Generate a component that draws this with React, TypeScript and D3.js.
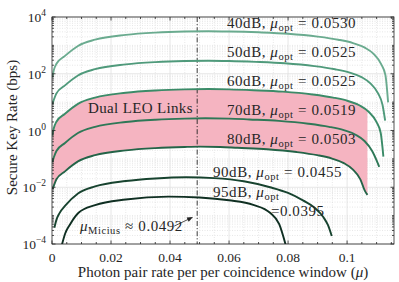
import React, { useRef, useEffect } from 'react';
import * as d3 from 'd3';

// link losses and the optimal mean photon pair number
const losses = ['40dB', '50dB', '60dB', '70dB', '80dB', '90dB', '95dB'];
const muOpts = ['0.0530', '0.0525', '0.0525', '0.0519', '0.0503', '0.0455', '0.0395'];

// mu (x) and log10 of the secure key rate (y)
const mu40 = [0.0001, 0.0006, 0.0015, 0.0044, 0.0088, 0.0146, 0.025, 0.035, 0.045, 0.053, 0.06, 0.07, 0.08, 0.09, 0.097, 0.102, 0.106, 0.109, 0.1115, 0.113, 0.1139];
const rate40 = [1.87, 2.12, 2.35, 2.63, 2.98, 3.20, 3.37, 3.45, 3.49, 3.50, 3.49, 3.46, 3.41, 3.31, 3.20, 3.08, 2.92, 2.70, 2.35, 1.95, 0.99];

const mu50 = [0.0001, 0.0006, 0.0015, 0.0044, 0.0088, 0.0146, 0.025, 0.035, 0.045, 0.053, 0.06, 0.0689, 0.0789, 0.0889, 0.0959, 0.1009, 0.1049, 0.1079, 0.1105, 0.112, 0.1129];
const rate50 = [0.93, 1.08, 1.31, 1.59, 1.94, 2.16, 2.33, 2.41, 2.45, 2.46, 2.45, 2.42, 2.37, 2.27, 2.16, 2.04, 1.88, 1.66, 1.31, 0.91, 0.35];

const mu60 = [0.0001, 0.0006, 0.0015, 0.0044, 0.0088, 0.0146, 0.025, 0.035, 0.045, 0.053, 0.06, 0.0683, 0.0783, 0.0883, 0.0953, 0.1003, 0.1043, 0.1073, 0.1099, 0.1114, 0.1123];
const rate60 = [-0.18, 0.08, 0.31, 0.59, 0.94, 1.16, 1.33, 1.41, 1.45, 1.46, 1.45, 1.42, 1.37, 1.27, 1.16, 1.04, 0.88, 0.66, 0.31, -0.09, -0.92];

const mu70 = [0.0001, 0.0006, 0.0015, 0.0044, 0.0088, 0.0146, 0.025, 0.035, 0.045, 0.052, 0.06, 0.0669, 0.0769, 0.0869, 0.0939, 0.0989, 0.1029, 0.1059, 0.1085, 0.11, 0.1109];
const rate70 = [-1.12, -0.95, -0.72, -0.44, -0.09, 0.13, 0.30, 0.38, 0.42, 0.43, 0.42, 0.39, 0.34, 0.24, 0.13, 0.01, -0.15, -0.37, -0.72, -1.05, -1.28];

const mu80 = [0.0002, 0.0006, 0.0015, 0.0044, 0.0088, 0.0146, 0.025, 0.035, 0.045, 0.05, 0.057, 0.0629, 0.0729, 0.0829, 0.0899, 0.0949, 0.0989, 0.1019, 0.1045, 0.106, 0.1069];
const rate80 = [-2.06, -1.95, -1.72, -1.44, -1.09, -0.87, -0.70, -0.62, -0.58, -0.57, -0.58, -0.61, -0.66, -0.76, -0.87, -0.99, -1.15, -1.37, -1.72, -2.12, -2.27];

const mu90 = [0.0008, 0.0015, 0.0025, 0.0044, 0.0088, 0.0146, 0.025, 0.035, 0.0455, 0.055, 0.065, 0.0739, 0.08, 0.0852, 0.089, 0.092, 0.0935, 0.0948];
const rate90 = [-3.43, -3.15, -2.92, -2.66, -2.22, -1.97, -1.78, -1.69, -1.65, -1.68, -1.79, -2.00, -2.20, -2.47, -2.72, -3.06, -3.33, -3.72];

const mu95 = [0.0033, 0.0045, 0.006, 0.009, 0.0146, 0.025, 0.0395, 0.05, 0.06, 0.0682, 0.0739, 0.077, 0.0795];
const rate95 = [-4.05, -3.62, -3.33, -2.90, -2.63, -2.43, -2.33, -2.36, -2.46, -2.62, -2.90, -3.30, -4.15];

const xTicks = [0, 0.02, 0.04, 0.06, 0.08, 0.1];
const xTickLabels = ['0', '0.02', '0.04', '0.06', '0.08', '0.1'];
const yTickExps = [-4, -2, 0, 2, 4];
const yTickLabels = ['\u22124', '\u22122', '0', '2', '4'];

const muMicius = 0.0492;
const miciusText = '0.0492';

const curveColors = ['#6aab8f', '#4f9a7b', '#3b8b68', '#2e7857', '#246448', '#17432f', '#0f2f22'];
const bandColor = '#f5b4c1';

const W = 399;
const H = 282;
const L = 52, R = 394, T = 17, B = 244;
const FONT = "'Liberation Serif', 'Times New Roman', serif";

const App: React.FC = () => {
    const svgRef = useRef<SVGSVGElement | null>(null);

    useEffect(() => {
        const svg = d3.select(svgRef.current);
        svg.selectAll('*').remove();

        const x = d3.scaleLinear().domain([0, 0.1159]).range([L, R]);
        const y = d3.scaleLog().domain([1e-4, 1e4]).range([B, T]);
        const yl = (v: number) => y(Math.pow(10, v));

        const series = [mu40, mu50, mu60, mu70, mu80, mu90, mu95].map((m, i) =>
            m.map((v, j) => [v, [rate40, rate50, rate60, rate70, rate80, rate90, rate95][i][j]] as [number, number]));

        const defs = svg.append('defs');
        defs.append('clipPath').attr('id', 'plotClip')
            .append('rect').attr('x', L).attr('y', T).attr('width', R - L).attr('height', B - T);

        // grid
        const grid = svg.append('g');
        const minorX = d3.range(1, 24).filter(k => k % 4 !== 0).map(k => k * 0.005);
        const minorY: number[] = [];
        for (let e = -4; e < 4; e++) {
            for (let m = 2; m <= 9; m++) minorY.push(m * Math.pow(10, e));
            if (e % 2 !== 0) minorY.push(Math.pow(10, e));
        }
        grid.selectAll('line.mx').data(minorX).enter().append('line')
            .attr('x1', d => x(d)).attr('x2', d => x(d)).attr('y1', T).attr('y2', B)
            .attr('stroke', '#d6d6d6').attr('stroke-width', 0.6).attr('stroke-dasharray', '1,1.5');
        grid.selectAll('line.my').data(minorY).enter().append('line')
            .attr('x1', L).attr('x2', R).attr('y1', d => y(d)).attr('y2', d => y(d))
            .attr('stroke', '#d6d6d6').attr('stroke-width', 0.6).attr('stroke-dasharray', '1,1.5');
        grid.selectAll('line.gx').data(xTicks.slice(1)).enter().append('line')
            .attr('x1', d => x(d)).attr('x2', d => x(d)).attr('y1', T).attr('y2', B)
            .attr('stroke', '#e0e0e0').attr('stroke-width', 0.8);
        grid.selectAll('line.gy').data(yTickExps).enter().append('line')
            .attr('x1', L).attr('x2', R).attr('y1', d => yl(d)).attr('y2', d => yl(d))
            .attr('stroke', '#e0e0e0').attr('stroke-width', 0.8);

        const plot = svg.append('g').attr('clip-path', 'url(#plotClip)');

        // pink band: between the 60dB and 80dB curves
        const c60 = series[2];
        const c80 = series[4];
        defs.append('clipPath').attr('id', 'above80')
            .append('path')
            .attr('d', d3.area<[number, number]>()
                .x(d => x(d[0])).y0(T - 10).y1(d => yl(d[1]))
                .curve(d3.curveMonotoneX)(c80) as string);
        plot.append('g').attr('clip-path', 'url(#above80)')
            .append('path')
            .attr('d', d3.area<[number, number]>()
                .x(d => x(d[0])).y0(B + 10).y1(d => yl(d[1]))
                .curve(d3.curveMonotoneX)(c60) as string)
            .attr('fill', bandColor);

        // Micius dash-dot line
        plot.append('line')
            .attr('x1', x(muMicius)).attr('x2', x(muMicius)).attr('y1', T).attr('y2', B)
            .attr('stroke', '#222').attr('stroke-width', 0.9).attr('stroke-dasharray', '5,2,1.2,2');

        const line = d3.line<[number, number]>()
            .x(d => x(d[0])).y(d => yl(d[1]))
            .curve(d3.curveMonotoneX);

        plot.selectAll('path.curve').data(series).enter().append('path')
            .attr('class', 'curve')
            .attr('d', d => line(d) as string)
            .attr('fill', 'none')
            .attr('stroke', (d, i) => curveColors[i])
            .attr('stroke-width', 1.9);

        // axes box and ticks
        const axes = svg.append('g').attr('stroke', '#262626').attr('stroke-width', 0.8);
        axes.append('rect').attr('x', L).attr('y', T).attr('width', R - L).attr('height', B - T).attr('fill', 'none');
        minorX.forEach(v => {
            axes.append('line').attr('x1', x(v)).attr('x2', x(v)).attr('y1', B).attr('y2', B - 2);
            axes.append('line').attr('x1', x(v)).attr('x2', x(v)).attr('y1', T).attr('y2', T + 2);
        });
        xTicks.forEach(v => {
            axes.append('line').attr('x1', x(v)).attr('x2', x(v)).attr('y1', B).attr('y2', B - 3.5);
            axes.append('line').attr('x1', x(v)).attr('x2', x(v)).attr('y1', T).attr('y2', T + 3.5);
        });
        minorY.forEach(v => {
            axes.append('line').attr('x1', L).attr('x2', L + 2).attr('y1', y(v)).attr('y2', y(v));
            axes.append('line').attr('x1', R).attr('x2', R - 2).attr('y1', y(v)).attr('y2', y(v));
        });
        yTickExps.forEach(e => {
            axes.append('line').attr('x1', L).attr('x2', L + 3.5).attr('y1', yl(e)).attr('y2', yl(e));
            axes.append('line').attr('x1', R).attr('x2', R - 3.5).attr('y1', yl(e)).attr('y2', yl(e));
        });

        const txt = svg.append('g').attr('font-family', FONT).attr('fill', '#262626');

        xTicks.forEach((v, i) => {
            txt.append('text').attr('x', x(v)).attr('y', 262).attr('text-anchor', 'middle')
                .attr('font-size', 13.5).text(xTickLabels[i]);
        });
        yTickExps.forEach((e, i) => {
            const t = txt.append('text').attr('x', 46).attr('y', yl(e) + 5).attr('text-anchor', 'end')
                .attr('font-size', 13.5);
            t.append('tspan').text('10');
            t.append('tspan').attr('dy', -6).attr('font-size', 9.5).text(yTickLabels[i]);
        });

        const xl = txt.append('text').attr('x', (L + R) / 2).attr('y', 277).attr('text-anchor', 'middle')
            .attr('font-size', 15);
        xl.append('tspan').text('Photon pair rate per per coincidence window (');
        xl.append('tspan').attr('font-style', 'italic').text('\u03bc');
        xl.append('tspan').text(')');

        txt.append('text').attr('transform', `translate(17,${(T + B) / 2 - 3}) rotate(-90)`)
            .attr('text-anchor', 'middle').attr('font-size', 15).text('Secure Key Rate (bps)');

        // curve annotations
        const muLabel = (px: number, py: number, lead: string, sub: string, tail: string, value: string) => {
            const t = txt.append('text').attr('x', px).attr('y', py).attr('font-size', 15)
                .attr('letter-spacing', 0.55);
            if (lead) t.append('tspan').text(lead);
            t.append('tspan').attr('font-style', 'italic').text('\u03bc');
            t.append('tspan').attr('dy', 2.5).attr('font-size', 10.5).text(sub);
            if (tail) t.append('tspan').attr('dy', -2.5).attr('dx', 4.5).text(tail);
            if (value) t.append('tspan').attr('dx', 4.5).text(value);
            return t;
        };
        const labelPos = [[227, 28], [227, 57], [227, 86], [227, 115], [227, 144], [213, 177]];
        labelPos.forEach((p, i) => {
            muLabel(p[0], p[1], `${losses[i]}, `, 'opt', '=', muOpts[i]);
        });
        muLabel(213, 197, `${losses[6]}, `, 'opt', '', '');
        txt.append('text').attr('x', 271).attr('y', 216).attr('font-size', 15)
            .attr('letter-spacing', 0.55).text(`=${muOpts[6]}`);

        txt.append('text').attr('x', 88).attr('y', 113).attr('font-size', 15)
            .attr('letter-spacing', 0.35).text('Dual LEO Links');

        muLabel(80, 231, '', 'Micius', '\u2248', miciusText);

        // arrow to the Micius line
        const ax0 = x(0.0414), ay0 = yl(-3.37), ax1 = x(0.0478), ay1 = yl(-3.05);
        const ang = Math.atan2(ay1 - ay0, ax1 - ax0);
        svg.append('line').attr('x1', ax0).attr('y1', ay0).attr('x2', ax1 - 4 * Math.cos(ang)).attr('y2', ay1 - 4 * Math.sin(ang))
            .attr('stroke', '#222').attr('stroke-width', 0.8);
        const hl = 6, hw = 2.4;
        const bx = ax1 - hl * Math.cos(ang), by = ay1 - hl * Math.sin(ang);
        svg.append('path')
            .attr('d', `M${ax1},${ay1}L${bx + hw * Math.sin(ang)},${by - hw * Math.cos(ang)}L${bx - hw * Math.sin(ang)},${by + hw * Math.cos(ang)}Z`)
            .attr('fill', '#222');
    }, []);

    return (
        <svg ref={svgRef} width={W} height={H}
            style={{ position: 'absolute', left: 0, top: 0, background: '#fff' }} />
    );
};

export default App;
